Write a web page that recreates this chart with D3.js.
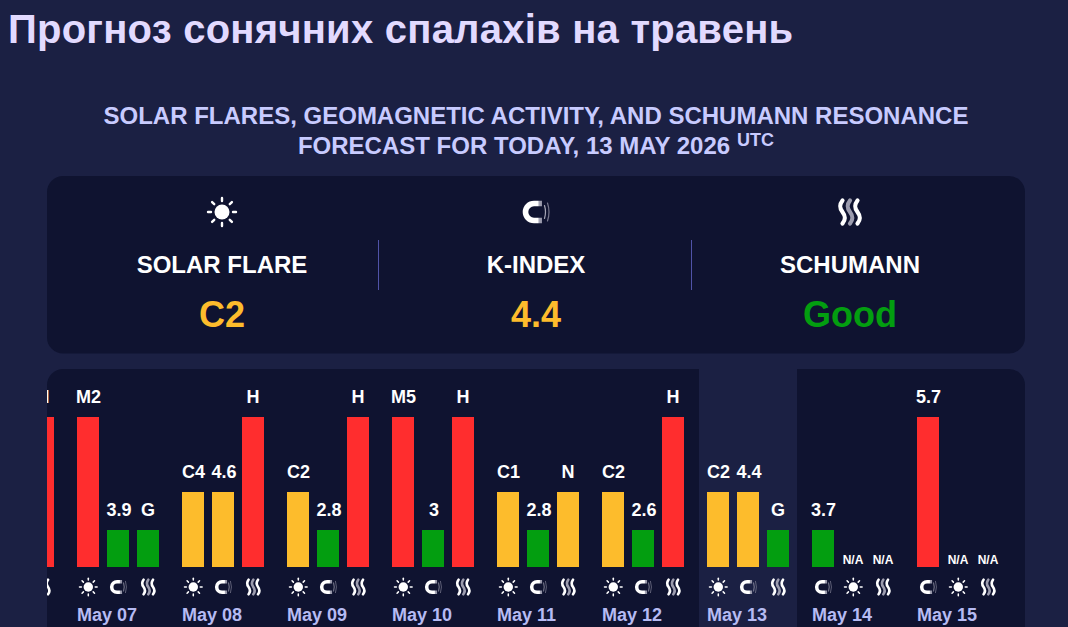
<!DOCTYPE html>
<html><head><meta charset="utf-8">
<script src="https://cdn.jsdelivr.net/npm/d3@7/dist/d3.min.js"></script>
<style>html,body{margin:0;padding:0;background:#1b2043;overflow:hidden}svg{display:block;font-family:"Liberation Sans",Arial,sans-serif}</style>
</head><body><svg id="c" width="1068" height="627"></svg>
<script>
const titleText = "Прогноз сонячних спалахів на травень";
const subtitleLines = ["SOLAR FLARES, GEOMAGNETIC ACTIVITY, AND SCHUMANN RESONANCE", "FORECAST FOR TODAY, 13 MAY 2026"];
const summaryLabels = ["SOLAR FLARE", "K-INDEX", "SCHUMANN"];
const summaryValues = ["C2", "4.4", "Good"];
const summaryIcons = ["sun", "magnet", "wave"];
const summaryLevels = [2, 2, 1];
const days = ["May 06","May 07","May 08","May 09","May 10","May 11","May 12","May 13","May 14","May 15"];
const iconOrder = [
 ["sun","magnet","wave"],["sun","magnet","wave"],["sun","magnet","wave"],["sun","magnet","wave"],["sun","magnet","wave"],
 ["sun","magnet","wave"],["sun","magnet","wave"],["sun","magnet","wave"],["magnet","sun","wave"],["magnet","sun","wave"]];
const labels = [
 ["","","H"],["M2","3.9","G"],["C4","4.6","H"],["C2","2.8","H"],["M5","3","H"],
 ["C1","2.8","N"],["C2","2.6","H"],["C2","4.4","G"],["3.7","N/A","N/A"],["5.7","N/A","N/A"]];
const levels = [
 [4,1,4],[4,1,1],[2,2,4],[2,1,4],[4,1,4],
 [2,1,2],[2,1,4],[2,2,1],[1,0,0],[4,0,0]];
const highlightDay = "May 13";

const colorOf = l => l===1 ? "#039e10" : l===2 ? "#fdbc2c" : "#ff2d2e";
const svg = d3.select("#c");
const defs = svg.append("defs");
defs.append("clipPath").attr("id","pc").append("rect").attr("x",47).attr("y",369).attr("width",978).attr("height",300).attr("rx",16);
const mgu = defs.append("linearGradient").attr("id","mgu").attr("gradientUnits","userSpaceOnUse").attr("x1",-12).attr("x2",7).attr("y1",0).attr("y2",0);
[[0,"#fff"],[0.72,"#fff"],[0.8,"#a5a5b5"],[1,"#8a8a9e"]].forEach(s=>mgu.append("stop").attr("offset",s[0]).attr("stop-color",s[1]));

svg.append("text").attr("x",8).attr("y",43).attr("font-size",40).attr("font-weight",700).attr("letter-spacing",0.23).attr("fill","#e2daff").text(titleText);
svg.selectAll(".sub").data(subtitleLines).join("text").attr("x",(d,i)=>i?514:536).attr("y",(d,i)=>124+i*30)
  .attr("text-anchor","middle").attr("font-size",24).attr("font-weight",700).attr("fill","#c8cbff").text(d=>d);
svg.append("text").attr("x",737).attr("y",146).attr("font-size",18).attr("font-weight",700).attr("fill","#c8cbff").text("UTC");

function icon(g,type,s){
  const h=g.append("g").attr("transform",`scale(${s})`).attr("stroke-linecap","round");
  if(type==="sun"){
    h.append("circle").attr("r",7.5).attr("fill","#fff");
    d3.range(8).forEach(i=>{const a=i*Math.PI/4,c=Math.cos(a),n=Math.sin(a);
      h.append("line").attr("x1",c*11).attr("y1",n*11).attr("x2",c*14).attr("y2",n*14).attr("stroke","#fff").attr("stroke-width",2.4);});
  } else if(type==="magnet"){
    h.append("path").attr("d","M6,-8.5H-2A8.5,8.5 0 0 0 -2,8.5H6").attr("fill","none").attr("stroke","url(#mgu)").attr("stroke-width",5.6).attr("stroke-linecap","butt");
    h.append("path").attr("d","M8.5,-6.5Q10.5,0 8.5,6.5").attr("fill","none").attr("stroke","#a5a5b5").attr("stroke-width",1.2);
    h.append("path").attr("d","M11.5,-9Q14.5,0 11.5,9").attr("fill","none").attr("stroke","#77778d").attr("stroke-width",1.2);
  } else {
    [[-7.5,"#fff"],[0,"#9c9cae"],[7.5,"#fff"]].forEach(([x,c])=>{
      h.append("path").attr("d",`M${x},-11.5C${x-3.5},-7 ${x-3},-4 ${x},0S${x+3.5},7 ${x},11.5`)
       .attr("fill","none").attr("stroke",c).attr("stroke-width",4.2);
    });
  }
}

// summary panel
svg.append("rect").attr("x",47).attr("y",176).attr("width",978).attr("height",177.5).attr("rx",16).attr("fill","#0f1330");
const sx = d3.scalePoint().domain(summaryLabels).range([222,850]);
const sG = svg.selectAll(".s").data(summaryLabels).join("g").attr("transform",d=>`translate(${sx(d)},0)`);
sG.append("text").attr("y",273).attr("text-anchor","middle").attr("font-size",24).attr("font-weight",700).attr("fill","#fff").text(d=>d);
sG.append("text").attr("y",327).attr("text-anchor","middle").attr("font-size",36).attr("font-weight",700)
  .attr("fill",(d,i)=>colorOf(summaryLevels[i])).text((d,i)=>summaryValues[i]);
sG.each(function(d,i){icon(d3.select(this).append("g").attr("transform",`translate(0,212)`),summaryIcons[i],1);});
[378.5,691.5].forEach(x=>svg.append("line").attr("x1",x).attr("x2",x).attr("y1",240).attr("y2",290).attr("stroke","#5053a8"));

// chart panel
const root = svg.append("g").attr("clip-path","url(#pc)");
root.append("rect").attr("x",47).attr("y",369).attr("width",978).attr("height",300).attr("fill","#0f1330");
const x = d3.scaleBand().domain(days).range([-28,1022]);
const y = d3.scaleLinear().domain([0,4]).rangeRound([567,417]);
root.append("rect").attr("x",x(highlightDay)-8).attr("y",369).attr("width",98).attr("height",300).attr("fill","#1b2043");
const dayG = root.selectAll(".d").data(days).join("g").attr("transform",d=>`translate(${x(d)},0)`);
const labelNudge = [0.5,1,0];
dayG.each(function(d,i){
  const g=d3.select(this);
  [0,1,2].forEach(j=>{
    const cx=j*30+11, lv=levels[i][j];
    if(lv>0) g.append("rect").attr("x",j*30).attr("y",y(lv)).attr("width",22).attr("height",y(0)-y(lv)).attr("fill",colorOf(lv));
    const na=labels[i][j]==="N/A";
    if(labels[i][j]) g.append("text").attr("x",cx+(na?0:labelNudge[j])).attr("y",na?564:y(lv)-14).attr("text-anchor","middle")
      .attr("font-size",na?12:18).attr("font-weight",700).attr("fill","#fff").text(labels[i][j]);
    icon(g.append("g").attr("transform",`translate(${cx+0.3},587)`),iconOrder[i][j],0.63);
  });
  if(x(d)>=47) g.append("text").attr("x",0).attr("y",621).attr("font-size",18).attr("font-weight",700).attr("fill","#b6bbf3").text(d);
});
</script></body></html>
